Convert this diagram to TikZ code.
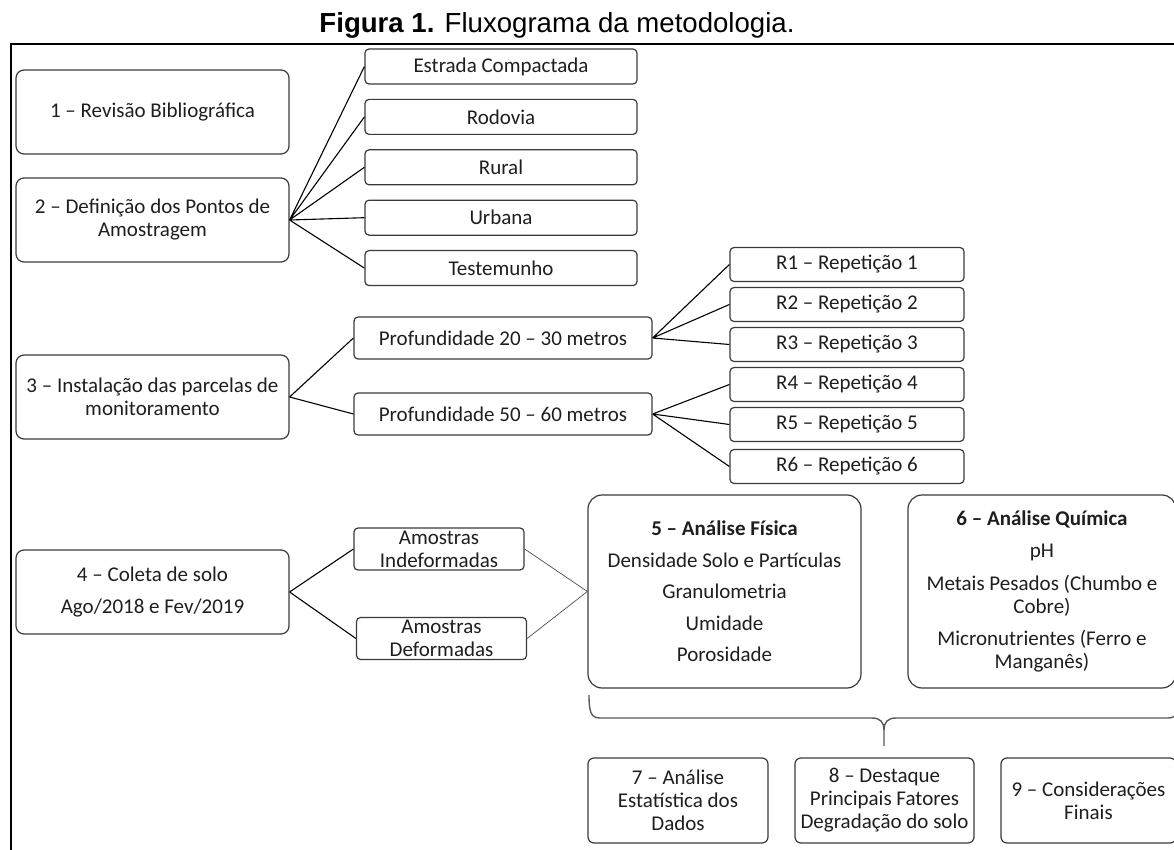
\documentclass[tikz,border=0pt]{standalone}
\usepackage{fontspec}
\setmainfont{Carlito}
\newfontfamily\titlefont{Liberation Sans}
\usepackage{tikz}
\usetikzlibrary{positioning}
\definecolor{boxline}{HTML}{3A3A3A}
\definecolor{txt}{HTML}{1E1E1E}
\tikzset{
x=0.5pt, y=-0.5pt, % one unit is one pixel of the figure
node distance=25.2pt, % centre to centre, for 'below of' and 'right of'
box/.style={draw=boxline, line width=0.6pt, text=txt, align=center, inner sep=0pt,
  font=\fontsize{10.5pt}{11.5pt}\selectfont}, % every box of the chart
mainbox/.style={box, rounded corners=4pt, minimum width=136.5pt, minimum height=42pt},
smallbox/.style={box, rounded corners=2pt, minimum width=136pt, minimum height=17.5pt},
profbox/.style={box, rounded corners=2pt, minimum width=149pt, minimum height=21pt},
repbox/.style={box, rounded corners=2pt, minimum width=117pt, minimum height=17pt},
sampbox/.style={box, rounded corners=2pt, minimum width=85pt, minimum height=21pt},
bigbox/.style={box, rounded corners=7pt, minimum height=96.5pt},
endbox/.style={box, rounded corners=3pt, minimum height=42.5pt},
link/.style={draw=black, line width=0.55pt}, % the connectors
thinlink/.style={draw=black!70, line width=0.35pt},
frame/.style={draw=black, line width=1pt},
bracestyle/.style={draw=black!65, line width=0.7pt},
}
\begin{document}
\begin{tikzpicture}
\useasboundingbox (0,0) rectangle (1174,850);
\clip (0,0) rectangle (1174,850);

% title and frame
\node[text=black, font=\titlefont\fontsize{13.8pt}{15pt}\selectfont] (title) at (557,25) {\textbf{Figura 1.} Fluxograma da metodologia.};
\draw[frame] (11,44) rectangle (1200,880);

% left column
\node[mainbox] (rev) at (152.5,112) {1 -- Revisão Bibliográfica};
\node[mainbox] (def) at (152.5,220) {2 -- Definição dos Pontos de\\Amostragem};
\node[mainbox] (inst) at (152.5,397) {3 -- Instalação das parcelas de\\monitoramento};
\node[mainbox] (col) at (152.5,592) {4 -- Coleta de solo\\[4.5pt]Ago/2018 e Fev/2019};

% sampling points
\node[smallbox] (estr) at (501,66.5) {Estrada Compactada};
\node[smallbox, below of=estr] (rod) {Rodovia};
\node[smallbox, below of=rod] (rur) {Rural};
\node[smallbox, below of=rur] (urb) {Urbana};
\node[smallbox, below of=urb] (test) {Testemunho};

% depths and repetitions
\node[profbox] (p1) at (503,338) {Profundidade 20 -- 30 metros};
\node[profbox, below of=p1, node distance=38pt] (p2) {Profundidade 50 -- 60 metros};
\node[repbox] (r1) at (847,264.5) {R1 -- Repetição 1};
\node[repbox, below of=r1, node distance=20pt] (r2) {R2 -- Repetição 2};
\node[repbox, below of=r2, node distance=20pt] (r3) {R3 -- Repetição 3};
\node[repbox, below of=r3, node distance=20pt] (r4) {R4 -- Repetição 4};
\node[repbox, below of=r4, node distance=20pt] (r5) {R5 -- Repetição 5};
\node[repbox, below of=r5, node distance=21pt] (r6) {R6 -- Repetição 6};

% samples and analyses
\node[sampbox] (indef) at (439,549) {Amostras\\Indeformadas};
\node[sampbox] (deform) at (441.5,638.5) {Amostras\\Deformadas};
\node[bigbox, minimum width=136.5pt] (fis) at (724.5,591.5)
  {\textbf{5 -- Análise Física}\\[4.3pt]Densidade Solo e Partículas\\[4.3pt]Granulometria\\[4.3pt]Umidade\\[4.3pt]Porosidade};
\node[bigbox, minimum width=134pt, right of=fis, node distance=158.75pt] (quim)
  {\textbf{6 -- Análise Química}\\[4.8pt]pH\\[4.8pt]Metais Pesados (Chumbo e\\Cobre)\\[4.8pt]Micronutrientes (Ferro e\\Manganês)};

% last steps
\node[endbox, minimum width=90pt] (est) at (678,800.5) {7 -- Análise\\Estatística dos\\Dados};
\node[endbox, minimum width=89.5pt, right of=est, node distance=103.25pt] (dest) {8 -- Destaque\\Principais Fatores\\Degradação do solo};
\node[endbox, minimum width=87.5pt, right of=dest, node distance=102pt] (cons) {9 -- Considerações\\Finais};

% connectors
\draw[link] (def.east) -- (estr.west)
            (def.east) -- (rod.west)
            (def.east) -- (rur.west)
            (def.east) -- (urb.west)
            (def.east) -- (test.west);
\draw[link] (inst.east) -- (p1.west)
            (inst.east) -- (p2.west);
\draw[link] (p1.east) -- (r1.west)
            (p1.east) -- (r2.west)
            (p1.east) -- (r3.west);
\draw[link] (p2.east) -- (r4.west)
            (p2.east) -- (r5.west)
            (p2.east) -- (r6.west);
\draw[link] (col.east) -- (indef.west)
            (col.east) -- (deform.west);
\draw[thinlink] (indef.east) -- (fis.west)
                (deform.east) -- (fis.west);

% brace under the analyses
\coordinate (brl) at (589,695);
\coordinate (brm) at (884,746);
\coordinate (brr) at (1179,695);
\draw[bracestyle] (brl) .. controls (589,712) and (591,718) .. (600,718) -- (872,718)
  .. controls (880,718) and (884,722) .. (884,730) -- (brm);
\draw[bracestyle] (884,730) .. controls (884,722) and (888,718) .. (896,718) -- (1168,718)
  .. controls (1177,718) and (1179,712) .. (brr);
\end{tikzpicture}
\end{document}
